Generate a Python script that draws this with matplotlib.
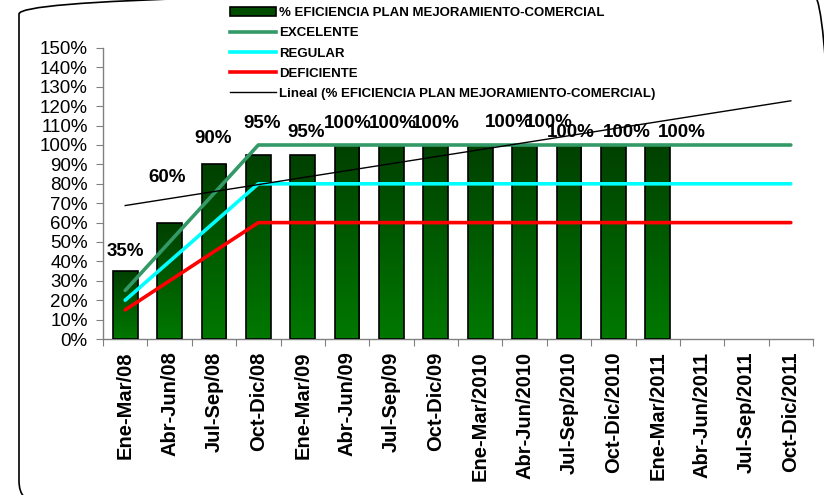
import matplotlib
matplotlib.use("Agg")
import matplotlib.pyplot as plt
import numpy as np
from matplotlib.patches import Patch, FancyBboxPatch
from matplotlib.lines import Line2D
from matplotlib.colors import LinearSegmentedColormap
from matplotlib.ticker import FixedLocator, FuncFormatter

plt.rcParams["font.family"] = ["Liberation Sans", "DejaVu Sans"]

# datos
periodos = ["Ene-Mar/08", "Abr-Jun/08", "Jul-Sep/08", "Oct-Dic/08",
            "Ene-Mar/09", "Abr-Jun/09", "Jul-Sep/09", "Oct-Dic/09",
            "Ene-Mar/2010", "Abr-Jun/2010", "Jul-Sep/2010", "Oct-Dic/2010",
            "Ene-Mar/2011", "Abr-Jun/2011", "Jul-Sep/2011", "Oct-Dic/2011"]
eficiencia = [35, 60, 90, 95, 95, 100, 100, 100, 100, 100, 100, 100, 100]
excelente = [25, 50, 75, 100, 100, 100, 100, 100, 100, 100, 100, 100, 100, 100, 100, 100]
regular = [20, 40, 60, 80, 80, 80, 80, 80, 80, 80, 80, 80, 80, 80, 80, 80]
deficiente = [15, 30, 45, 60, 60, 60, 60, 60, 60, 60, 60, 60, 60, 60, 60, 60]

# desplazamiento de las etiquetas (pixeles) tal como quedaron en el grafico
etiqueta_dx = [0, -2, -1, 4, 3, 1, 1, 0, 29, 24, 2, 14, 24]
etiqueta_dy = [20, 45, 26, 31, 22, 21, 21, 21, 22, 22, 12, 12, 12]

fig = plt.figure(figsize=(8.24, 4.95), dpi=100)
ax = fig.add_axes([103 / 824, 1 - 339 / 495, 710 / 824, 291 / 495])

x_all = np.arange(len(periodos))
x_bar = np.arange(len(eficiencia))

# barras con degradado
bars = ax.bar(x_bar, eficiencia, width=0.56, color="none", edgecolor="black",
              linewidth=1.2, zorder=3)
cmap = LinearSegmentedColormap.from_list("verde", ["#007800", "#004000"])
grad = np.linspace(0, 1, 256).reshape(-1, 1)
for b in bars:
    x0, w, h = b.get_x(), b.get_width(), b.get_height()
    im = ax.imshow(grad, cmap=cmap, origin="lower", aspect="auto",
                   extent=[x0, x0 + w, 0, h], zorder=2)
    im.set_clip_path(b)

# lineas de referencia
ax.plot(x_all, excelente, color="#339966", lw=2.6, zorder=4, solid_capstyle="round")
ax.plot(x_all, regular, color="#00FFFF", lw=2.6, zorder=4, solid_capstyle="round")
ax.plot(x_all, deficiente, color="#FF0000", lw=2.6, zorder=4, solid_capstyle="round")

# tendencia lineal
coef = np.polyfit(x_bar, eficiencia, 1)
ax.plot(x_all, np.polyval(coef, x_all), color="black", lw=1.0, zorder=5)

# etiquetas de datos
for i, v in enumerate(eficiencia):
    ax.annotate(f"{v}%", (i, v), xytext=(etiqueta_dx[i] * 0.72, etiqueta_dy[i] * 0.72),
                textcoords="offset points", ha="center", va="center",
                fontsize=13.5, fontweight="bold", zorder=6)

ax.set_xlim(-0.5, len(periodos) - 0.5)
ax.set_ylim(0, 150)
ax.set_yticks(np.arange(0, 151, 10))
ax.yaxis.set_major_formatter(FuncFormatter(lambda v, p: f"{v:.0f}%"))
ax.xaxis.set_major_locator(FixedLocator(np.arange(-0.5, len(periodos), 1)))
ax.xaxis.set_major_formatter(FuncFormatter(lambda v, p: ""))
ax.set_xticks(x_all, minor=True)
ax.set_xticklabels(periodos, minor=True, rotation=90, fontsize=14.5, fontweight="bold")
ax.tick_params(axis="x", which="minor", length=0, pad=9)
ax.tick_params(axis="x", which="major", length=5, color="#808080", direction="out")
ax.tick_params(axis="y", length=5, color="#808080", labelsize=13.5, pad=6)
for s in ["top", "right"]:
    ax.spines[s].set_visible(False)
for s in ["left", "bottom"]:
    ax.spines[s].set_color("#808080")
    ax.spines[s].set_linewidth(1.0)

# leyenda
handles = [
    Patch(facecolor="#004D00", edgecolor="black", linewidth=1.2),
    Line2D([], [], color="#339966", lw=2.6),
    Line2D([], [], color="#00FFFF", lw=2.6),
    Line2D([], [], color="#FF0000", lw=2.6),
    Line2D([], [], color="black", lw=1.0),
]
labels = ["% EFICIENCIA PLAN MEJORAMIENTO-COMERCIAL", "EXCELENTE", "REGULAR",
          "DEFICIENTE", "Lineal (% EFICIENCIA PLAN MEJORAMIENTO-COMERCIAL)"]
fig.legend(handles, labels, loc="upper left", bbox_to_anchor=(230 / 824, 1 - 7 / 495),
           frameon=False, prop={"size": 9.5, "weight": "bold"}, handlelength=3.5,
           handletextpad=0.2, labelspacing=0.6, borderpad=0, borderaxespad=0)

# marco redondeado (en pulgadas, independiente de la resolucion)
marco = FancyBboxPatch((0.19, -0.08), 8.15, 5.11, boxstyle="round,pad=0,rounding_size=0.22",
                       transform=fig.dpi_scale_trans, facecolor="none",
                       edgecolor="black", linewidth=1.2)
fig.add_artist(marco)

fig.savefig("out.png", dpi=100)
